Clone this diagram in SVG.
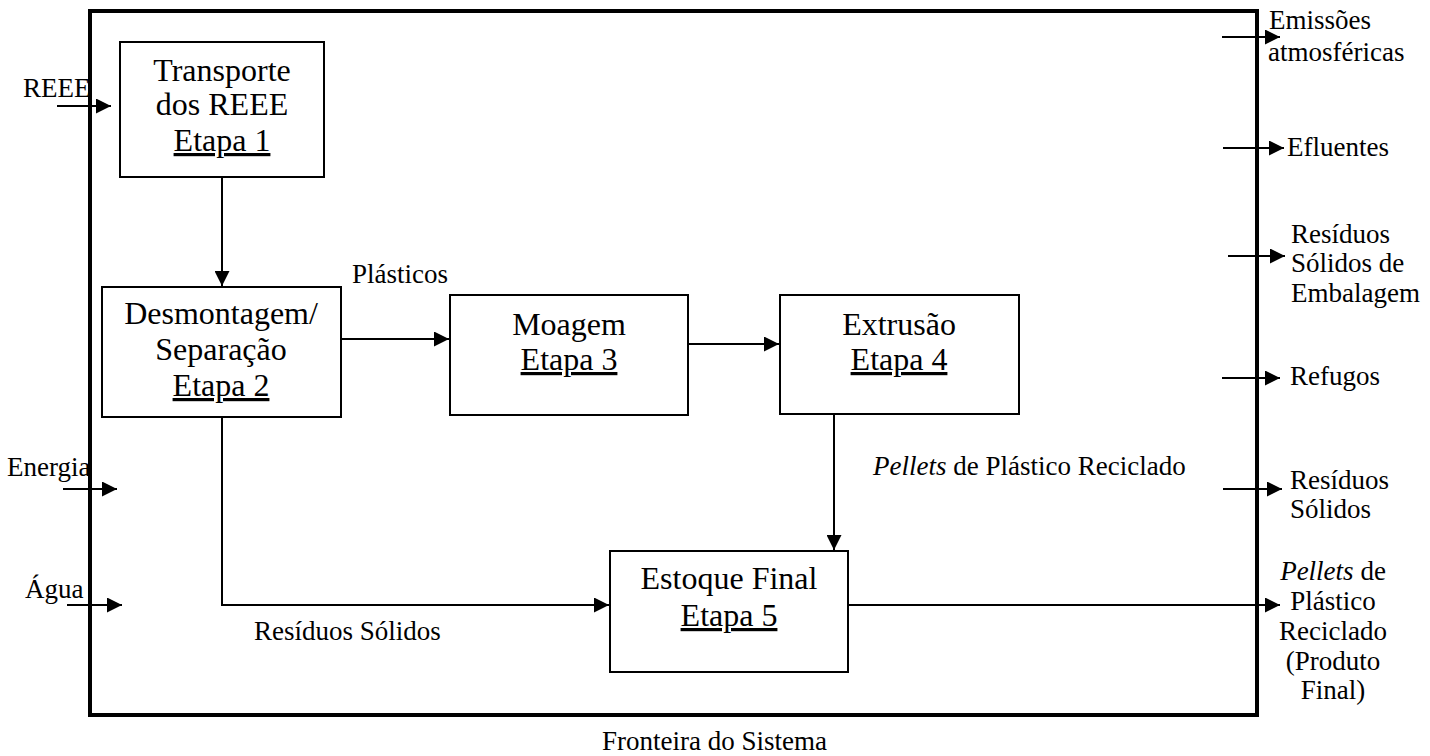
<svg xmlns="http://www.w3.org/2000/svg" width="1430" height="756" viewBox="0 0 1430 756">
<style>
text{font-family:"Liberation Serif","Times New Roman",serif;fill:#000}
.bt{font-size:32px;text-anchor:middle}
.lb{font-size:27px}
.u{text-decoration:underline}
.box{fill:#fff;stroke:#000;stroke-width:2}
.cn{fill:none;stroke:#000;stroke-width:2;marker-end:url(#ah)}
</style>
<defs>
<marker id="ah" markerUnits="userSpaceOnUse" markerWidth="15" markerHeight="15" refX="14" refY="7" orient="auto" viewBox="0 0 14 14">
<path d="M0,0 L14,7 L0,14 z" fill="#000"/>
</marker>
</defs>
<rect id="fronteira" x="90" y="11" width="1167" height="704" fill="none" stroke="#000" stroke-width="4"/>
<g id="connectors">
<path class="cn" d="M222,177 V286"/>
<path class="cn" d="M341,339 H449"/>
<path class="cn" d="M688,344 H779"/>
<path class="cn" d="M834,414 V550"/>
<path class="cn" d="M222,417 V605 H609"/>
<path class="cn" d="M848,605 H1280"/>
<path class="cn" d="M57,106 H111"/>
<path class="cn" d="M63,489 H117"/>
<path class="cn" d="M67,605 H122"/>
<path class="cn" d="M1222,37 H1280"/>
<path class="cn" d="M1223,148 H1284"/>
<path class="cn" d="M1228,256 H1285"/>
<path class="cn" d="M1222,378 H1280"/>
<path class="cn" d="M1223,489 H1282"/>
</g>
<g id="etapa1">
<rect class="box" x="120" y="42" width="204" height="135"/>
<text class="bt" x="222" y="81">Transporte</text>
<text class="bt" x="222" y="115">dos REEE</text>
<text class="bt u" x="222" y="151">Etapa 1</text>
</g>
<g id="etapa2">
<rect class="box" x="102" y="287" width="239" height="130"/>
<text class="bt" x="221" y="324">Desmontagem/</text>
<text class="bt" x="221" y="360">Separação</text>
<text class="bt u" x="221" y="396">Etapa 2</text>
</g>
<g id="etapa3">
<rect class="box" x="450" y="295" width="238" height="120"/>
<text class="bt" x="569" y="335">Moagem</text>
<text class="bt u" x="569" y="370">Etapa 3</text>
</g>
<g id="etapa4">
<rect class="box" x="780" y="295" width="239" height="119"/>
<text class="bt" x="899" y="335">Extrusão</text>
<text class="bt u" x="899" y="370">Etapa 4</text>
</g>
<g id="etapa5">
<rect class="box" x="610" y="551" width="238" height="121"/>
<text class="bt" x="729" y="589">Estoque Final</text>
<text class="bt u" x="729" y="626">Etapa 5</text>
</g>
<g id="labels">
<text class="lb" x="352" y="283">Plásticos</text>
<text class="lb" x="873" y="475"><tspan font-style="italic">Pellets</tspan> de Plástico Reciclado</text>
<text class="lb" x="254" y="640">Resíduos Sólidos</text>
<text class="lb" x="602" y="750">Fronteira do Sistema</text>
<text class="lb" x="23" y="97">REEE</text>
<text class="lb" x="7" y="476">Energia</text>
<text class="lb" x="25" y="598">Água</text>
<text class="lb" x="1269" y="29">Emissões</text>
<text class="lb" x="1268" y="61">atmosféricas</text>
<text class="lb" x="1287" y="156">Efluentes</text>
<text class="lb" x="1291" y="243">Resíduos</text>
<text class="lb" x="1291" y="272">Sólidos de</text>
<text class="lb" x="1291" y="302">Embalagem</text>
<text class="lb" x="1290" y="385">Refugos</text>
<text class="lb" x="1290" y="489">Resíduos</text>
<text class="lb" x="1290" y="518">Sólidos</text>
<g text-anchor="middle">
<text class="lb" x="1333" y="580"><tspan font-style="italic">Pellets</tspan> de</text>
<text class="lb" x="1333" y="610">Plástico</text>
<text class="lb" x="1333" y="640">Reciclado</text>
<text class="lb" x="1333" y="670">(Produto</text>
<text class="lb" x="1333" y="699">Final)</text>
</g>
</g>
</svg>
